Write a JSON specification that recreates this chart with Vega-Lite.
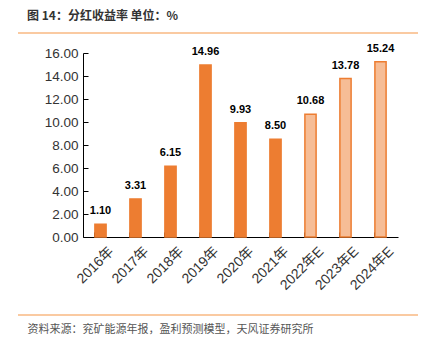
{
  "$schema": "https://vega.github.io/schema/vega-lite/v6.json",
  "autosize": "none",
  "width": 315,
  "height": 184,
  "padding": {"left": 83, "top": 53, "right": 28, "bottom": 107},
  "background": "white",
  "config": {
    "view": {"stroke": null},
    "font": "Liberation Sans",
    "axisY": {
      "labelOverlap": false,
      "grid": false,
      "labelFont": "Liberation Sans",
      "labelFontSize": 13.5,
      "labelColor": "#333333",
      "tickSize": -5,
      "labelPadding": 10,
      "tickColor": "#000000",
      "domainColor": "#000000"
    }
  },
  "title": {
    "text": "图 14：分红收益率 单位：%",
    "anchor": "start",
    "frame": "group",
    "dx": -56,
    "dy": 13,
    "offset": 22,
    "font": "Noto Sans CJK SC",
    "fontSize": 12,
    "fontWeight": "bold",
    "color": "#333333"
  },
  "data": {
    "values": [
      {"year": "2016年", "v": 1.10, "type": "actual"},
      {"year": "2017年", "v": 3.31, "type": "actual"},
      {"year": "2018年", "v": 6.15, "type": "actual"},
      {"year": "2019年", "v": 14.96, "type": "actual"},
      {"year": "2020年", "v": 9.93, "type": "actual"},
      {"year": "2021年", "v": 8.50, "type": "actual"},
      {"year": "2022年E", "v": 10.68, "type": "forecast"},
      {"year": "2023年E", "v": 13.78, "type": "forecast"},
      {"year": "2024年E", "v": 15.24, "type": "forecast"}
    ]
  },
  "layer": [
    {
      "mark": {"type": "bar", "strokeWidth": 1.5},
      "encoding": {
        "x": {
          "field": "year", "type": "nominal", "sort": null,
          "scale": {"paddingInner": 0.68, "paddingOuter": 0.34},
          "axis": {
            "title": "资料来源：兖矿能源年报，盈利预测模型，天风证券研究所",
            "titleFont": "Noto Sans CJK SC",
            "titleFontSize": 11,
            "titleFontWeight": "normal",
            "titleColor": "#555555",
            "titleAnchor": "start",
            "titleAlign": "left",
            "titleBaseline": "alphabetic",
            "titleX": -56,
            "titleY": 95,
            "labelAngle": -45,
            "labelAlign": "right",
            "labelBaseline": "middle",
            "labelFont": "Liberation Sans, Noto Sans CJK SC",
            "labelFontSize": 14,
            "labelColor": "#333333",
            "labelPadding": 17,
            "labelOffset": 11,
            "labelOverlap": false,
            "bandPosition": 0,
            "tickSize": -5,
            "tickColor": "#000000",
            "domainColor": "#000000",
            "labelFlush": false
          }
        },
        "y": {
          "field": "v", "type": "quantitative",
          "scale": {"domain": [0, 16], "nice": false},
          "axis": {
            "title": null,
            "values": [0, 2, 4, 6, 8, 10, 12, 14, 16],
            "format": ".2f",
            "labelOverlap": false
          }
        },
        "color": {
          "field": "type", "type": "nominal", "legend": null,
          "scale": {"domain": ["actual", "forecast"], "range": ["#ED7D31", "#F6BD96"]}
        },
        "stroke": {
          "field": "type", "type": "nominal", "legend": null,
          "scale": {"domain": ["actual", "forecast"], "range": ["#ED7D31", "#ED7D31"]}
        }
      }
    },
    {
      "mark": {"type": "text", "baseline": "bottom", "dy": -8, "fontSize": 11, "fontWeight": "bold", "color": "#000000", "font": "Liberation Sans"},
      "encoding": {
        "x": {"field": "year", "type": "nominal", "sort": null},
        "y": {
          "field": "v", "type": "quantitative",
          "axis": {
            "title": null,
            "values": [0, 2, 4, 6, 8, 10, 12, 14, 16],
            "format": ".2f",
            "labelOverlap": false
          }
        },
        "text": {"field": "v", "type": "quantitative", "format": ".2f"}
      }
    },
    {
      "data": {"values": [{"line": "top"}]},
      "mark": {"type": "rule", "color": "#F8B982", "strokeWidth": 1.5, "clip": false},
      "encoding": {
        "x": {"value": -65},
        "x2": {"value": 335},
        "y": {"value": -20}
      }
    },
    {
      "data": {"values": [{"line": "bottom"}]},
      "mark": {"type": "rule", "color": "#F8B982", "strokeWidth": 1.5, "clip": false},
      "encoding": {
        "x": {"value": -65},
        "x2": {"value": 335},
        "y": {"value": 262}
      }
    }
  ]
}
